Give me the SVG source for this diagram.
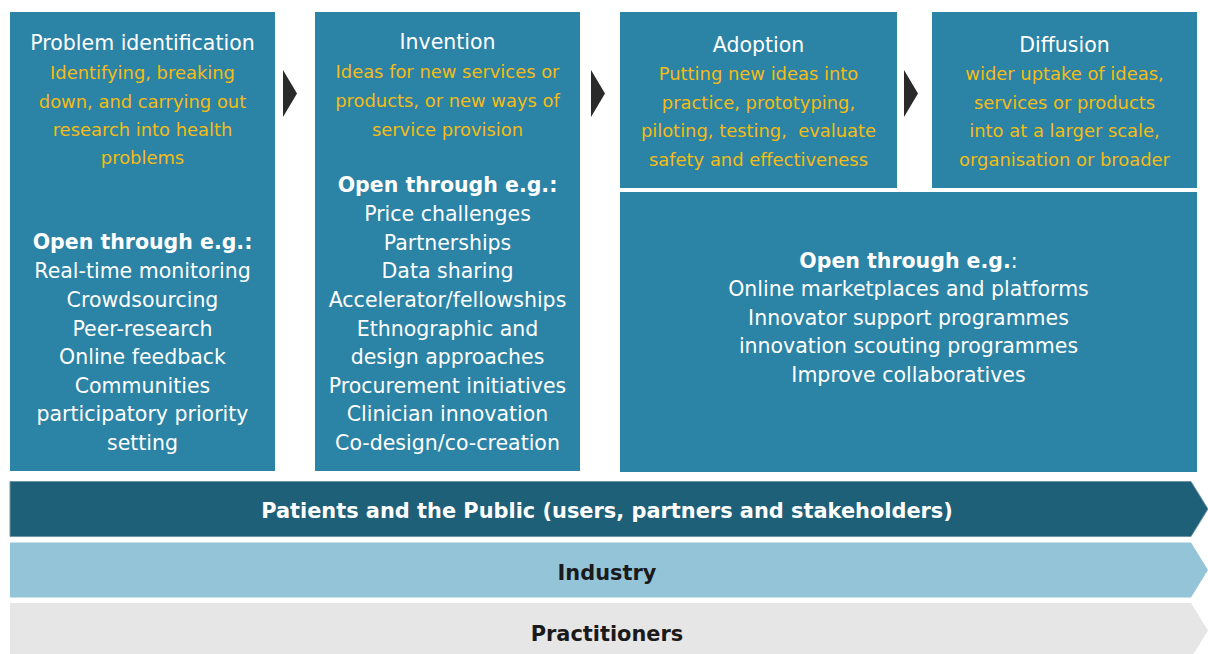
<svg xmlns="http://www.w3.org/2000/svg" width="1208" height="654" viewBox="0 0 1208 654">
<style>
.box{fill:#2B83A5}
.t{font-family:"DejaVu Sans",Verdana,sans-serif;text-anchor:middle}
.w{fill:#FFFFFF;font-size:20.5px}
.b{fill:#FFFFFF;font-size:20.5px;font-weight:bold}
.y{fill:#F4BC14;font-size:17.9px}
.arr{fill:#2A2A2A}
.bar1{fill:#1F6079;stroke:#6F95A6;stroke-width:1}
.bar2{fill:#94C4D8}
.bar3{fill:#E6E6E6}
.bt{font-family:"DejaVu Sans",Verdana,sans-serif;text-anchor:middle;font-weight:bold;font-size:20.9px}
</style>
<rect width="1208" height="654" fill="#FFFFFF"/>

<g id="problem">
<rect class="box" x="10" y="12" width="265" height="459"/>
<text class="t w" x="142.5" y="50">Problem identification</text>
<text class="t y" x="142.5" y="79">Identifying, breaking</text>
<text class="t y" x="142.5" y="107.5">down, and carrying out</text>
<text class="t y" x="142.5" y="136">research into health</text>
<text class="t y" x="142.5" y="164">problems</text>
<text class="t b" x="142.5" y="249">Open through e.g.:</text>
<text class="t w" x="142.5" y="278">Real-time monitoring</text>
<text class="t w" x="142.5" y="307">Crowdsourcing</text>
<text class="t w" x="142.5" y="335.5">Peer-research</text>
<text class="t w" x="142.5" y="364">Online feedback</text>
<text class="t w" x="142.5" y="393">Communities</text>
<text class="t w" x="142.5" y="421">participatory priority</text>
<text class="t w" x="142.5" y="450">setting</text>
</g>

<g id="invention">
<rect class="box" x="315" y="12" width="265" height="459"/>
<text class="t w" x="447.5" y="49">Invention</text>
<text class="t y" x="447.5" y="78">Ideas for new services or</text>
<text class="t y" x="447.5" y="107">products, or new ways of</text>
<text class="t y" x="447.5" y="136">service provision</text>
<text class="t b" x="447.5" y="192">Open through e.g.:</text>
<text class="t w" x="447.5" y="221">Price challenges</text>
<text class="t w" x="447.5" y="249.5">Partnerships</text>
<text class="t w" x="447.5" y="278">Data sharing</text>
<text class="t w" x="447.5" y="307">Accelerator/fellowships</text>
<text class="t w" x="447.5" y="335.5">Ethnographic and</text>
<text class="t w" x="447.5" y="364">design approaches</text>
<text class="t w" x="447.5" y="393">Procurement initiatives</text>
<text class="t w" x="447.5" y="421">Clinician innovation</text>
<text class="t w" x="447.5" y="450">Co-design/co-creation</text>
</g>

<g id="adoption">
<rect class="box" x="620" y="12" width="277" height="176"/>
<text class="t w" x="758.5" y="52">Adoption</text>
<text class="t y" x="758.5" y="80">Putting new ideas into</text>
<text class="t y" x="758.5" y="109">practice, prototyping,</text>
<text class="t y" x="758.5" y="137" xml:space="preserve">piloting, testing,  evaluate</text>
<text class="t y" x="758.5" y="166">safety and effectiveness</text>
</g>

<g id="diffusion">
<rect class="box" x="932" y="12" width="265" height="176"/>
<text class="t w" x="1064.5" y="52">Diffusion</text>
<text class="t y" x="1064.5" y="80">wider uptake of ideas,</text>
<text class="t y" x="1064.5" y="109">services or products</text>
<text class="t y" x="1064.5" y="137">into at a larger scale,</text>
<text class="t y" x="1064.5" y="166">organisation or broader</text>
</g>

<g id="open-later">
<rect class="box" x="620" y="192" width="577" height="280"/>
<text class="t w" x="908.5" y="268"><tspan font-weight="bold">Open through e.g.</tspan>:</text>
<text class="t w" x="908.5" y="296">Online marketplaces and platforms</text>
<text class="t w" x="908.5" y="325">Innovator support programmes</text>
<text class="t w" x="908.5" y="353">innovation scouting programmes</text>
<text class="t w" x="908.5" y="382">Improve collaboratives</text>
</g>

<g id="connectors">
<polygon class="arr" points="283,70 297,93.5 283,117"/>
<polygon class="arr" points="591,70 605,93.5 591,117"/>
<polygon class="arr" points="904,70 918,93.5 904,117"/>
</g>

<g id="patients">
<polygon class="bar1" points="10,481.5 1191,481.5 1208,509 1191,536.5 10,536.5"/>
<text class="bt" x="607" y="518" fill="#FFFFFF">Patients and the Public (users, partners and stakeholders)</text>
</g>
<g id="industry">
<polygon class="bar2" points="10,542.5 1191,542.5 1208,570 1191,597.5 10,597.5"/>
<text class="bt" x="607" y="580" fill="#1A1A1A">Industry</text>
</g>
<g id="practitioners">
<polygon class="bar3" points="10,603 1191,603 1208,630.5 1191,658 10,658"/>
<text class="bt" x="607" y="641" fill="#1A1A1A">Practitioners</text>
</g>
</svg>
